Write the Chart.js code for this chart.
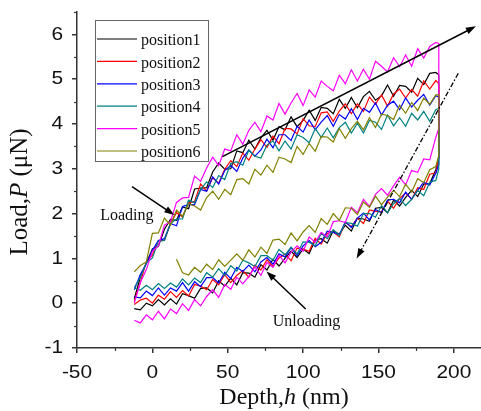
<!DOCTYPE html>
<html>
<head>
<meta charset="utf-8">
<script src="https://cdn.jsdelivr.net/npm/chart.js@4"></script>
<style>
  html, body { margin: 0; padding: 0; background: #fff; }
</style>
</head>
<body>
<canvas id="grafico" width="481" height="411"></canvas>
<script>
const seriesNames = ['position1', 'position2', 'position3', 'position4', 'position5', 'position6'];
const seriesColors = ['#000000', '#ff0000', '#0000ff', '#008080', '#ff00ff', '#808000'];

const xTicks = [-50, 0, 50, 100, 150, 200];
const yTicks = [-1, 0, 1, 2, 3, 4, 5, 6];

// depth (nm) of the loading branch and of the hold + unloading branch
const loadDepth = [-12, -8, -4, 0, 4, 8, 12, 16, 20, 24, 28, 32, 36, 40, 44, 48, 52, 56, 60, 64,
  68, 72, 76, 80, 84, 88, 92, 96, 100, 104, 108, 112, 116, 120, 124, 128, 132, 136, 140, 144,
  148, 152, 156, 160, 164, 168, 172, 176, 180, 184, 188];
const unloadDepth = [190, 190, 190, 190, 188, 184, 180, 176, 172, 168, 164, 160, 156, 152, 148, 144,
  140, 136, 132, 128, 124, 120, 116, 112, 108, 104, 100, 96, 92, 88, 84, 80, 76, 72, 68, 64,
  60, 56, 52, 48, 44, 40, 36, 32, 28, 24, 20, 16, 12, 8, 4, 0, -4, -8, -12];

// load (uN)
const loadP1 = [0.1, 0.58, 0.9, 1.21, 1.27, 1.65, 1.87, 1.85, 2.15, 2.11, 2.55, 2.57, 2.58, 2.93, 3.13, 2.99, 3.0, 3.4, 3.36, 3.64,
  3.44, 3.69, 3.86, 3.64, 3.94, 3.87, 4.16, 3.94, 4.08, 4.31, 4.08, 4.37, 4.35, 4.23, 4.55, 4.35, 4.59, 4.36, 4.61, 4.73,
  4.53, 4.63, 4.87, 4.62, 4.86, 4.84, 4.71, 5.02, 4.88, 5.13, 5.15];
const loadP2 = [0.05, 0.46, 0.93, 1.07, 1.4, 1.4, 1.78, 2.02, 1.93, 2.24, 2.27, 2.66, 2.5, 2.8, 2.68, 2.99, 3.18, 3.05, 3.35, 3.19,
  3.44, 3.65, 3.48, 3.73, 3.56, 3.9, 3.89, 3.78, 4.12, 3.96, 3.94, 4.25, 4.27, 4.06, 4.29, 4.45, 4.23, 4.45, 4.28, 4.6,
  4.44, 4.65, 4.4, 4.67, 4.78, 4.58, 4.77, 4.62, 4.96, 4.78, 4.97];
const loadP3 = [0.3, 0.64, 0.88, 1.18, 1.4, 1.44, 1.78, 1.73, 2.16, 2.2, 2.2, 2.54, 2.5, 2.82, 2.66, 2.96, 3.08, 2.94, 3.24, 3.42,
  3.28, 3.42, 3.66, 3.47, 3.76, 3.76, 3.63, 3.95, 3.82, 4.09, 3.87, 4.04, 4.19, 3.95, 4.21, 4.11, 4.34, 4.1, 4.35, 4.26,
  4.47, 4.2, 4.42, 4.51, 4.32, 4.58, 4.38, 4.53, 4.66, 4.42, 4.63];
const loadP4 = [0.35, 0.57, 0.9, 1.01, 1.38, 1.4, 1.78, 1.88, 1.88, 2.3, 2.24, 2.54, 2.71, 2.58, 2.85, 2.76, 3.12, 3.16, 3.08, 3.42,
  3.28, 3.24, 3.53, 3.62, 3.4, 3.62, 3.44, 3.76, 3.7, 3.58, 3.9, 3.7, 3.91, 3.69, 3.92, 4.04, 3.8, 4.02, 3.8, 4.08,
  4.04, 3.88, 4.2, 3.96, 4.14, 3.95, 4.24, 4.09, 4.28, 4.06, 4.32];
const loadP5 = [0.0, 0.46, 0.75, 1.16, 1.28, 1.74, 1.82, 2.25, 2.35, 2.36, 2.84, 2.72, 3.02, 3.26, 3.07, 3.44, 3.4, 3.76, 3.55, 3.86,
  4.04, 3.83, 4.18, 4.09, 4.46, 4.22, 4.47, 4.68, 4.41, 4.76, 4.6, 4.96, 4.84, 4.74, 5.09, 4.9, 5.21, 4.96, 5.22, 5.0,
  5.4, 5.29, 5.16, 5.48, 5.28, 5.54, 5.29, 5.68, 5.47, 5.73, 5.82];
const loadP6 = [0.7, 0.84, 0.92, 1.56, 1.57, 1.9, 1.74, 2.08, 1.94, 2.22, 2.17, 2.08, 2.36, 2.5, 2.32, 2.54, 2.42, 2.76, 2.78, 2.66,
  2.99, 2.86, 3.08, 2.92, 3.26, 3.22, 3.14, 3.5, 3.32, 3.57, 3.39, 3.72, 3.71, 3.6, 3.9, 3.68, 3.9, 4.06, 3.87, 4.14,
  3.92, 4.22, 4.19, 4.1, 4.42, 4.24, 4.48, 4.3, 4.58, 4.44, 4.65];

const unloadP1 = [5.1, 4.4, 3.7, 3.25, 2.98, 2.67, 2.66, 2.38, 2.52, 2.36, 2.17, 2.3, 2.02, 2.14, 2.12, 1.83,
  1.88, 1.9, 1.61, 1.74, 1.54, 1.62, 1.34, 1.44, 1.41, 1.11, 1.21, 1.02, 1.16, 1.0, 0.83, 0.98, 0.74, 0.86, 0.58, 0.67,
  0.68, 0.41, 0.56, 0.38, 0.5, 0.23, 0.34, 0.33, 0.11, 0.17, 0.21, -0.02, 0.1, -0.04, 0.08, -0.06, 0.0, -0.15, -0.12];
const unloadP2 = [4.9, 4.3, 3.7, 3.25, 2.91, 2.88, 2.54, 2.58, 2.32, 2.46, 2.34, 2.12, 2.28, 2.04, 2.05, 2.08,
  1.78, 1.9, 1.71, 1.8, 1.48, 1.59, 1.56, 1.32, 1.45, 1.16, 1.21, 1.23, 0.95, 1.1, 1.01, 0.82, 0.97, 0.74, 0.85, 0.58,
  0.73, 0.62, 0.46, 0.64, 0.41, 0.53, 0.3, 0.38, 0.42, 0.16, 0.28, 0.13, 0.26, 0.09, 0.18, 0.0, 0.11, 0.07, -0.03];
const unloadP3 = [4.6, 4.0, 3.5, 3.1, 2.9, 2.64, 2.7, 2.52, 2.32, 2.48, 2.24, 2.32, 2.3, 2.02, 2.09, 1.86,
  2.01, 1.9, 1.69, 1.82, 1.53, 1.58, 1.61, 1.36, 1.26, 1.4, 1.28, 1.06, 1.24, 1.03, 1.1, 0.87, 1.02, 0.92, 0.7, 0.85,
  0.71, 0.8, 0.55, 0.69, 0.45, 0.57, 0.57, 0.37, 0.48, 0.27, 0.46, 0.27, 0.34, 0.18, 0.34, 0.17, 0.27, 0.12, 0.14];
const unloadP4 = [4.35, 3.85, 3.4, 3.0, 2.74, 2.7, 2.4, 2.52, 2.32, 2.18, 2.34, 2.22, 2.02, 2.18, 1.92, 2.0,
  2.0, 1.72, 1.78, 1.8, 1.51, 1.64, 1.44, 1.56, 1.28, 1.36, 1.37, 1.1, 1.25, 1.08, 1.2, 0.96, 1.06, 1.06, 0.82, 0.9,
  0.96, 0.72, 0.84, 0.62, 0.77, 0.58, 0.68, 0.46, 0.56, 0.41, 0.54, 0.36, 0.45, 0.33, 0.44, 0.3, 0.4, 0.29, 0.34];
const unloadP5 = [5.8, 5.0, 4.3, 3.9, 3.7, 3.2, 3.22, 2.92, 2.96, 2.64, 2.81, 2.62, 2.41, 2.56, 2.43, 2.16,
  2.32, 2.02, 2.14, 1.8, 1.84, 1.82, 1.48, 1.58, 1.36, 1.48, 1.16, 1.28, 1.14, 0.9, 1.07, 0.8, 0.91, 0.62, 0.81, 0.6,
  0.43, 0.58, 0.31, 0.42, 0.13, 0.3, 0.15, -0.06, 0.08, -0.16, -0.01, -0.23, -0.13, -0.35, -0.18, -0.37, -0.26, -0.44, -0.38];
const unloadP6 = [4.65, 4.1, 3.6, 3.3, 3.05, 2.98, 2.69, 2.78, 2.48, 2.66, 2.38, 2.52, 2.37, 2.2, 2.39, 2.14,
  2.26, 1.98, 2.12, 2.13, 1.85, 2.0, 1.76, 1.89, 1.58, 1.73, 1.59, 1.39, 1.57, 1.31, 1.43, 1.41, 1.11, 1.25, 1.03, 1.19,
  0.96, 1.1, 0.96, 0.82, 0.97, 0.75, 0.87, 0.69, 0.8, 0.63, 0.68, 0.98, null, null, null, null, null, null, null];

const loadSeries = [loadP1, loadP2, loadP3, loadP4, loadP5, loadP6];
const unloadSeries = [unloadP1, unloadP2, unloadP3, unloadP4, unloadP5, unloadP6];

// annotations, in data units
const solidArrow = [[46.5, 3.27], [214.6, 6.18]];
const dashArrow = [[202.9, 5.13], [135.5, 1.0]];
const loadingArrow = [[-13.5, 2.6], [14.6, 1.97]];
const unloadingArrow = [[101.7, -0.13], [75.7, 0.71]];
const loadingLabel = [-34.6, 1.94];
const unloadingLabel = [79.9, -0.42];

const sans = "'Liberation Sans', Arial, sans-serif";
const serif = "'Liberation Serif', 'Times New Roman', serif";

function montaPontos(load, unload) {
  const pts = [];
  loadDepth.forEach((d, i) => { if (load[i] != null) pts.push({ x: d, y: load[i] }); });
  unloadDepth.forEach((d, i) => { if (unload[i] != null) pts.push({ x: d, y: unload[i] }); });
  return pts;
}

const datasets = seriesNames.map((nome, i) => ({
  label: nome,
  data: montaPontos(loadSeries[i], unloadSeries[i]),
  showLine: true,
  borderColor: seriesColors[i],
  backgroundColor: seriesColors[i],
  borderWidth: 1.2,
  pointRadius: 0,
  tension: 0,
  order: seriesNames.length - i
}));

function seta(ctx, x1, y1, x2, y2, dash, lw) {
  const ang = Math.atan2(y2 - y1, x2 - x1);
  const len = 10, half = 3.5;
  ctx.save();
  ctx.strokeStyle = '#000';
  ctx.fillStyle = '#000';
  ctx.lineWidth = lw;
  ctx.setLineDash(dash);
  ctx.beginPath();
  ctx.moveTo(x1, y1);
  ctx.lineTo(x2 - Math.cos(ang) * len * 0.8, y2 - Math.sin(ang) * len * 0.8);
  ctx.stroke();
  ctx.setLineDash([]);
  ctx.beginPath();
  ctx.moveTo(x2, y2);
  ctx.lineTo(x2 - Math.cos(ang) * len - Math.sin(ang) * half, y2 - Math.sin(ang) * len + Math.cos(ang) * half);
  ctx.lineTo(x2 - Math.cos(ang) * len + Math.sin(ang) * half, y2 - Math.sin(ang) * len - Math.cos(ang) * half);
  ctx.closePath();
  ctx.fill();
  ctx.restore();
}

function textoEsticado(ctx, txt, x, y, align, sx) {
  ctx.save();
  ctx.translate(x, y);
  ctx.scale(sx, 1);
  ctx.textAlign = align;
  ctx.fillText(txt, 0, 0);
  ctx.restore();
}

function textoMisto(ctx, partes, size, cx, cy) {
  let total = 0;
  partes.forEach(p => {
    ctx.font = (p[1] ? 'italic ' : '') + size + 'px ' + serif;
    total += ctx.measureText(p[0]).width;
  });
  let x = cx - total / 2;
  ctx.textAlign = 'left';
  ctx.textBaseline = 'middle';
  partes.forEach(p => {
    ctx.font = (p[1] ? 'italic ' : '') + size + 'px ' + serif;
    ctx.fillText(p[0], x, cy);
    x += ctx.measureText(p[0]).width;
  });
}

const extras = {
  id: 'extras',
  afterDatasetsDraw(chart) {
    const ctx = chart.ctx;
    const sx = chart.scales.x, sy = chart.scales.y;
    const px = p => [sx.getPixelForValue(p[0]), sy.getPixelForValue(p[1])];
    const a = px(solidArrow[0]), b = px(solidArrow[1]);
    seta(ctx, a[0], a[1], b[0], b[1], [], 1.5);
    const c = px(dashArrow[0]), d = px(dashArrow[1]);
    seta(ctx, c[0], c[1], d[0], d[1], [5, 2, 1.5, 2], 1.3);
    const e = px(loadingArrow[0]), f = px(loadingArrow[1]);
    seta(ctx, e[0], e[1], f[0], f[1], [], 1.5);
    const g = px(unloadingArrow[0]), h = px(unloadingArrow[1]);
    seta(ctx, g[0], g[1], h[0], h[1], [], 1.5);

    ctx.save();
    ctx.fillStyle = '#111';
    ctx.font = '16px ' + serif;
    ctx.textBaseline = 'middle';
    ctx.textAlign = 'left';
    const l = px(loadingLabel), u = px(unloadingLabel);
    ctx.fillText('Loading', l[0], l[1]);
    ctx.fillText('Unloading', u[0], u[1]);
    ctx.restore();
  },
  afterDraw(chart) {
    const ctx = chart.ctx;
    const sx = chart.scales.x, sy = chart.scales.y;
    const area = chart.chartArea;
    ctx.save();

    // minor ticks
    ctx.strokeStyle = '#333';
    ctx.lineWidth = 1.2;
    [-25, 25, 75, 125, 175].forEach(v => {
      const x = Math.round(sx.getPixelForValue(v)) + 0.5;
      ctx.beginPath(); ctx.moveTo(x, area.bottom); ctx.lineTo(x, area.bottom + 3); ctx.stroke();
    });
    [-0.5, 0.5, 1.5, 2.5, 3.5, 4.5, 5.5, 6.5].forEach(v => {
      const y = Math.round(sy.getPixelForValue(v)) + 0.5;
      ctx.beginPath(); ctx.moveTo(area.left, y); ctx.lineTo(area.left - 3, y); ctx.stroke();
    });

    // tick labels
    ctx.fillStyle = '#111';
    ctx.font = '19px ' + sans;
    ctx.textBaseline = 'middle';
    xTicks.forEach(v => textoEsticado(ctx, String(v), sx.getPixelForValue(v), area.bottom + 25, 'center', 1.1));
    yTicks.forEach(v => textoEsticado(ctx, String(v), area.left - 14, sy.getPixelForValue(v), 'right', 1.1));

    // axis titles
    textoMisto(ctx, [['Depth,', false], ['h', true], [' (nm)', false]], 24, 284, 398);
    ctx.save();
    ctx.translate(20, 192);
    ctx.rotate(-Math.PI / 2);
    textoMisto(ctx, [['Load,', false], ['P', true], [' (\u03bcN)', false]], 25, 0, 0);
    ctx.restore();

    // legend box
    const lx = 95.5, ly = 20.5, lw = 113, lh = 141;
    ctx.fillStyle = '#fff';
    ctx.fillRect(lx, ly, lw, lh);
    ctx.strokeStyle = '#666';
    ctx.lineWidth = 1;
    ctx.strokeRect(lx, ly, lw, lh);
    ctx.font = '16px ' + serif;
    ctx.textAlign = 'left';
    ctx.textBaseline = 'middle';
    seriesNames.forEach((nome, i) => {
      const y = 41 + i * 22.4;
      ctx.strokeStyle = seriesColors[i];
      ctx.lineWidth = 1.2;
      ctx.beginPath(); ctx.moveTo(97, y - 2); ctx.lineTo(137, y - 2); ctx.stroke();
      ctx.fillStyle = '#111';
      ctx.fillText(nome, 141, y);
    });
    ctx.restore();
  }
};

const grafico = new Chart(document.getElementById('grafico'), {
  type: 'scatter',
  data: { datasets },
  options: {
    responsive: false,
    animation: false,
    layout: { padding: { top: 12, right: 0, bottom: 0, left: 0 } },
    plugins: { legend: { display: false }, tooltip: { enabled: false } },
    scales: {
      x: {
        type: 'linear', min: -50, max: 218,
        afterBuildTicks: s => { s.ticks = xTicks.map(v => ({ value: v })); },
        afterFit: s => { s.height = 63; },
        ticks: { display: false },
        grid: { drawOnChartArea: false, drawTicks: true, tickLength: 5, color: '#333', lineWidth: 1.5 },
        border: { color: '#333', width: 1.5 }
      },
      y: {
        type: 'linear', min: -1, max: 6.5,
        afterBuildTicks: s => { s.ticks = yTicks.map(v => ({ value: v })); },
        afterFit: s => { s.width = 77; },
        ticks: { display: false },
        grid: { drawOnChartArea: false, drawTicks: true, tickLength: 5, color: '#333', lineWidth: 1.5 },
        border: { color: '#333', width: 1.5 }
      }
    }
  },
  plugins: [extras]
});
</script>
</body>
</html>
